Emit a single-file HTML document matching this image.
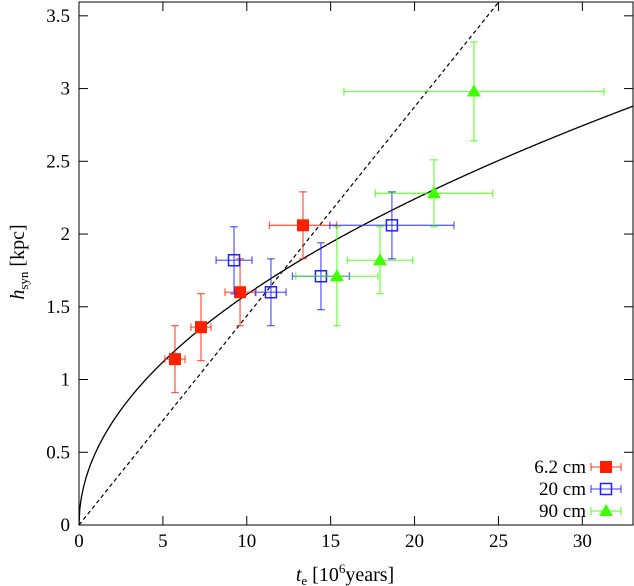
<!DOCTYPE html>
<html><head><meta charset="utf-8"><style>
body{margin:0;background:#fff}
svg{display:block;font-family:"Liberation Serif",serif}
</style></head><body>
<svg id="c" width="634" height="586" xmlns="http://www.w3.org/2000/svg"></svg>
<script>
const xTicks=[0,5,10,15,20,25,30];
const yTicks=[0,0.5,1,1.5,2,2.5,3,3.5];
const yTickLabels=["0","0.5","1","1.5","2","2.5","3","3.5"];
const redX=[5.72,7.27,9.6,13.35];
const redY=[1.14,1.36,1.6,2.06];
const redXErr=[0.6,0.6,0.9,2.0];
const redYErr=[0.23,0.23,0.23,0.23];
const blueX=[9.24,11.44,14.42,18.65];
const blueY=[1.82,1.6,1.71,2.06];
const blueXErr=[1.07,0.9,1.7,3.7];
const blueYErr=[0.23,0.23,0.23,0.23];
const greenX=[15.37,17.94,21.16,23.54];
const greenY=[1.71,1.82,2.28,2.98];
const greenXErr=[2.45,1.95,3.5,7.75];
const greenYErr=[0.34,0.23,0.23,0.34];
const linSlope=0.1437;
const sqrtCoef=0.501;

const L=79,R=633,T=2,B=525,XMAX=33.02,YMAX=3.595;
const sx=v=>L+v/XMAX*(R-L), sy=v=>B-v/YMAX*(B-T);
const svg=document.getElementById('c');const NS='http://www.w3.org/2000/svg';
function mk(t,a,p){const e=document.createElementNS(NS,t);for(const k in a)e.setAttribute(k,a[k]);(p||svg).appendChild(e);return e;}

// frame
let fr=mk('rect',{x:L,y:T,width:R-L,height:B-T,fill:'none',stroke:'#000','stroke-width':1});


const xa=mk('g',{});


xTicks.forEach(v=>{const x=sx(v);
 mk('line',{x1:x,x2:x,y1:B,y2:B-9,stroke:'#000'},xa);mk('line',{x1:x,x2:x,y1:T,y2:T+9,stroke:'#000'},xa);
 const t=mk('text',{x:x,y:B+22,'text-anchor':'middle','font-size':19},xa);t.textContent=v;
 
 });
const ya=mk('g',{});


yTicks.forEach((v,i)=>{const y=sy(v);
 mk('line',{x1:L,x2:L+9,y1:y,y2:y,stroke:'#000'},ya);mk('line',{x1:R,x2:R-9,y1:y,y2:y,stroke:'#000'},ya);
 const t=mk('text',{x:L-9,y:y+6,'text-anchor':'end','font-size':19},ya);t.textContent=yTickLabels[i];
 
 });
let xt=mk('text',{x:345,y:581,'text-anchor':'middle','font-size':20});
xt.innerHTML='<tspan font-style="italic">t</tspan><tspan font-size="13" dy="4">e</tspan><tspan dy="-4"> [10</tspan><tspan font-size="13" dy="-8">6</tspan><tspan dy="8">years]</tspan>';


let yt=mk('text',{x:0,y:0,'text-anchor':'middle','font-size':20,transform:'translate(24,262) rotate(-90)'});
yt.innerHTML='<tspan font-style="italic">h</tspan><tspan font-size="13" dy="4">syn</tspan><tspan dy="-4"> [kpc]</tspan>';



const clip=mk('clipPath',{id:'cp'});mk('rect',{x:L,y:T,width:R-L,height:B-T},clip);
let d='';for(let t=0;t<=XMAX;t+=0.05)d+=(t?'L':'M')+sx(t).toFixed(1)+','+sy(sqrtCoef*Math.sqrt(t)).toFixed(1);
let sc=mk('path',{d:d,fill:'none',stroke:'#000','stroke-width':1.3,'clip-path':'url(#cp)'});


let dl=mk('line',{x1:sx(0),y1:sy(0),x2:sx(YMAX/linSlope),y2:sy(YMAX),stroke:'#000','stroke-width':1.2,'stroke-dasharray':'4,3'});



function errbar(g,x,y,xe,ye,col){
 const c=5;
 mk('line',{x1:sx(x-xe),x2:sx(x+xe),y1:sy(y),y2:sy(y),stroke:col,'stroke-width':1.3,opacity:0.7},g);
 mk('line',{x1:sx(x),x2:sx(x),y1:sy(y-ye),y2:sy(y+ye),stroke:col,'stroke-width':1.3,opacity:0.7},g);
 [x-xe,x+xe].forEach(v=>mk('line',{x1:sx(v),x2:sx(v),y1:sy(y)-c/1.3,y2:sy(y)+c/1.3,stroke:col,'stroke-width':1.3,opacity:0.7},g));
 [y-ye,y+ye].forEach(v=>mk('line',{x1:sx(x)-c/1.3,x2:sx(x)+c/1.3,y1:sy(v),y2:sy(v),stroke:col,'stroke-width':1.3,opacity:0.7},g));
}
function marker(g,type,px,py,col){
 if(type==='fsq')mk('rect',{x:px-6,y:py-6,width:12,height:12,fill:col},g);
 else if(type==='osq')mk('rect',{x:px-5.5,y:py-5.5,width:11,height:11,fill:'none',stroke:col,'stroke-width':1.5},g);
 else mk('polygon',{points:`${px},${py-7} ${px-7},${py+5} ${px+7},${py+5}`,fill:col},g);
}
function series(name,X,Y,XE,YE,col,type){
 const g=mk('g',{});
 
 
 X.forEach((x,i)=>{errbar(g,x,Y[i],XE[i],YE[i],col);marker(g,type,sx(x),sy(Y[i]),col);});
}
series('series-6cm',redX,redY,redXErr,redYErr,'#ff2000','fsq');
series('series-20cm',blueX,blueY,blueXErr,blueYErr,'#2020ff','osq');
series('series-90cm',greenX,greenY,greenXErr,greenYErr,'#40ff00','tri');

const leg=[['6.2 cm','#ff2000','fsq'],['20 cm','#2020ff','osq'],['90 cm','#40ff00','tri']];
leg.forEach((l,i)=>{const y=467+i*22;const g=mk('g',{});
 
 
 const t=mk('text',{x:586,y:y+6,'text-anchor':'end','font-size':19},g);t.textContent=l[0];
 mk('line',{x1:591,x2:621,y1:y,y2:y,stroke:l[1],'stroke-width':1.3,opacity:0.7},g);
 [591,621].forEach(x=>mk('line',{x1:x,x2:x,y1:y-4,y2:y+4,stroke:l[1],'stroke-width':1.3,opacity:0.7},g));
 marker(g,l[2],606,y,l[1]);});
</script>
</body></html>
